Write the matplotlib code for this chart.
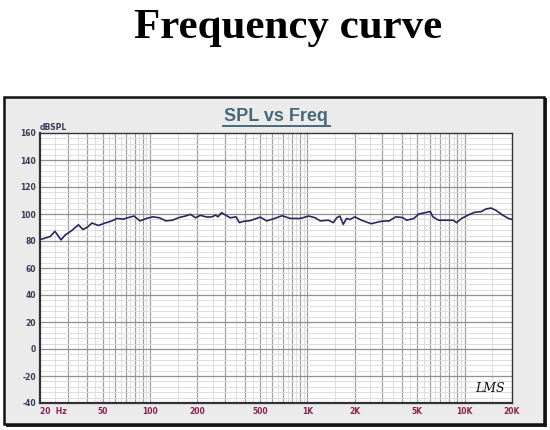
import numpy as np
import matplotlib
matplotlib.use("Agg")
import matplotlib.pyplot as plt
from matplotlib.patches import Rectangle
from matplotlib.ticker import FixedLocator, NullFormatter

# frequency response
freq = [20, 23.2, 24.9, 27.2, 29.0, 31.8, 35.1, 37.5, 40.0, 42.8, 47.0, 51.9,
        57.3, 61.9, 67.9, 73.1, 79.2, 86.3, 95.0, 104, 115, 126, 139, 153,
        168, 181, 195, 209, 230, 248, 261, 271, 285, 302, 324, 352, 370, 394,
        434, 467, 502, 552, 608, 692, 780, 904, 1020, 1123, 1207, 1361, 1464,
        1537, 1612, 1692, 1776, 1864, 2004, 2206, 2548, 2944, 3315, 3650,
        4020, 4285, 4760, 5110, 5760, 6050, 6285, 6820, 7690, 8470, 8890,
        9560, 10530, 11600, 12770, 13720, 14750, 15850, 17430, 19000, 20000]
spl = [81.0, 83.3, 87.2, 80.8, 84.6, 87.7, 92.0, 88.5, 90.3, 93.3, 91.5, 93.3,
       94.9, 96.7, 96.2, 97.4, 98.5, 94.9, 96.7, 97.9, 97.2, 94.9, 95.4, 97.4,
       98.5, 99.7, 97.2, 99.0, 97.7, 97.9, 99.2, 97.9, 101.0, 99.2, 97.2, 97.9,
       93.6, 94.6, 95.1, 96.4, 97.7, 94.9, 96.4, 98.7, 96.7, 96.7, 98.5, 97.2,
       94.9, 95.4, 93.6, 97.2, 98.5, 92.3, 96.7, 95.9, 97.9, 95.4, 92.8, 94.6,
       94.9, 97.9, 97.4, 95.4, 96.7, 100.0, 101.3, 101.8, 97.9, 95.4, 95.4,
       95.4, 93.6, 96.7, 99.2, 101.3, 101.8, 103.8, 104.4, 102.6, 99.2, 96.7, 96.0]

xticks = [20, 50, 100, 200, 500, 1000, 2000, 5000, 10000, 20000]
xlabels = ["20  Hz", "50", "100", "200", "500", "1K", "2K", "5K", "10K", "20K"]
yticks = [-40, -20, 0, 20, 40, 60, 80, 100, 120, 140, 160]

fig = plt.figure(figsize=(5.5, 4.3), dpi=100)

# grey panel with black frame and a little shadow
fig.patches.append(Rectangle((6 / 550, 1 - 427 / 430), 541 / 550, 329 / 430,
                             transform=fig.transFigure, facecolor="#222222",
                             edgecolor="none", zorder=-2))
fig.patches.append(Rectangle((4 / 550, 1 - 424 / 430), 540 / 550, 327 / 430,
                             transform=fig.transFigure, facecolor="#ebebeb",
                             edgecolor="#111111", linewidth=1.8, zorder=-1))

fig.text(288 / 550, 1 - 28 / 430, "Frequency curve", ha="center", va="center",
         fontsize=31, fontweight="bold", family="Liberation Serif", color="black")

fig.text(276 / 550, 1 - 116 / 430, "SPL vs Freq", ha="center", va="center",
         fontsize=13, fontweight="bold", family="Liberation Sans",
         color="#46697a")
fig.add_artist(plt.Line2D([223 / 550, 330 / 550], [1 - 125.5 / 430, 1 - 125.5 / 430],
                          transform=fig.transFigure, color="#46697a", lw=1.4))

ax = fig.add_axes([40 / 550, 1 - 403 / 430, 472 / 550, 270 / 430])
ax.set_facecolor("white")
ax.set_xscale("log")
ax.set_xlim(20, 20000)
ax.set_ylim(-40, 160)

# grid: integer multiples darker, half steps lighter
dark = [m * 10 ** d for d in range(1, 5) for m in range(1, 10)]
dark = [v for v in dark if 20 < v < 20000]
light = [(m + 0.5) * 10 ** d for d in range(1, 5) for m in range(1, 10)]
light = [v for v in light if 20 < v < 20000]
for v in light:
    ax.axvline(v, color="#dddddd", lw=0.7, zorder=1)
for v in dark:
    ax.axvline(v, color="#a0a0a0", lw=0.9, zorder=1)
for v in range(-40, 161, 4):
    if v % 20:
        ax.axhline(v, color="#dddddd", lw=0.7, zorder=1)
for v in yticks[1:-1]:
    ax.axhline(v, color="#909090", lw=0.9, zorder=1)

ax.plot(freq, spl, color="#28285e", lw=1.2, zorder=3)

ax.xaxis.set_major_locator(FixedLocator(xticks))
ax.xaxis.set_minor_locator(FixedLocator([]))
ax.xaxis.set_minor_formatter(NullFormatter())
ax.set_xticks(xticks)
ax.set_xticklabels(xlabels, fontsize=5.5, fontweight="bold", color="#8c2050")
ax.get_xticklabels()[0].set_horizontalalignment("left")
ax.set_yticks(yticks)
ax.set_yticklabels([str(v) for v in yticks], fontsize=5.5, fontweight="bold",
                   color="#3a3a55")
ax.tick_params(length=0, pad=3)
for s in ax.spines.values():
    s.set_color("#333333")
    s.set_linewidth(1.0)
ax.spines["left"].set_linewidth(1.6)
ax.spines["bottom"].set_linewidth(1.6)

ax.text(0.0, 1.005, "dBSPL", transform=ax.transAxes, ha="left", va="bottom",
        fontsize=5.5, fontweight="bold", color="#3a3a55")
ax.text(0.985, 0.03, "LMS", transform=ax.transAxes, ha="right", va="bottom",
        fontsize=9, style="italic", family="DejaVu Serif", color="#111111")

fig.savefig("out.png", dpi=100)
